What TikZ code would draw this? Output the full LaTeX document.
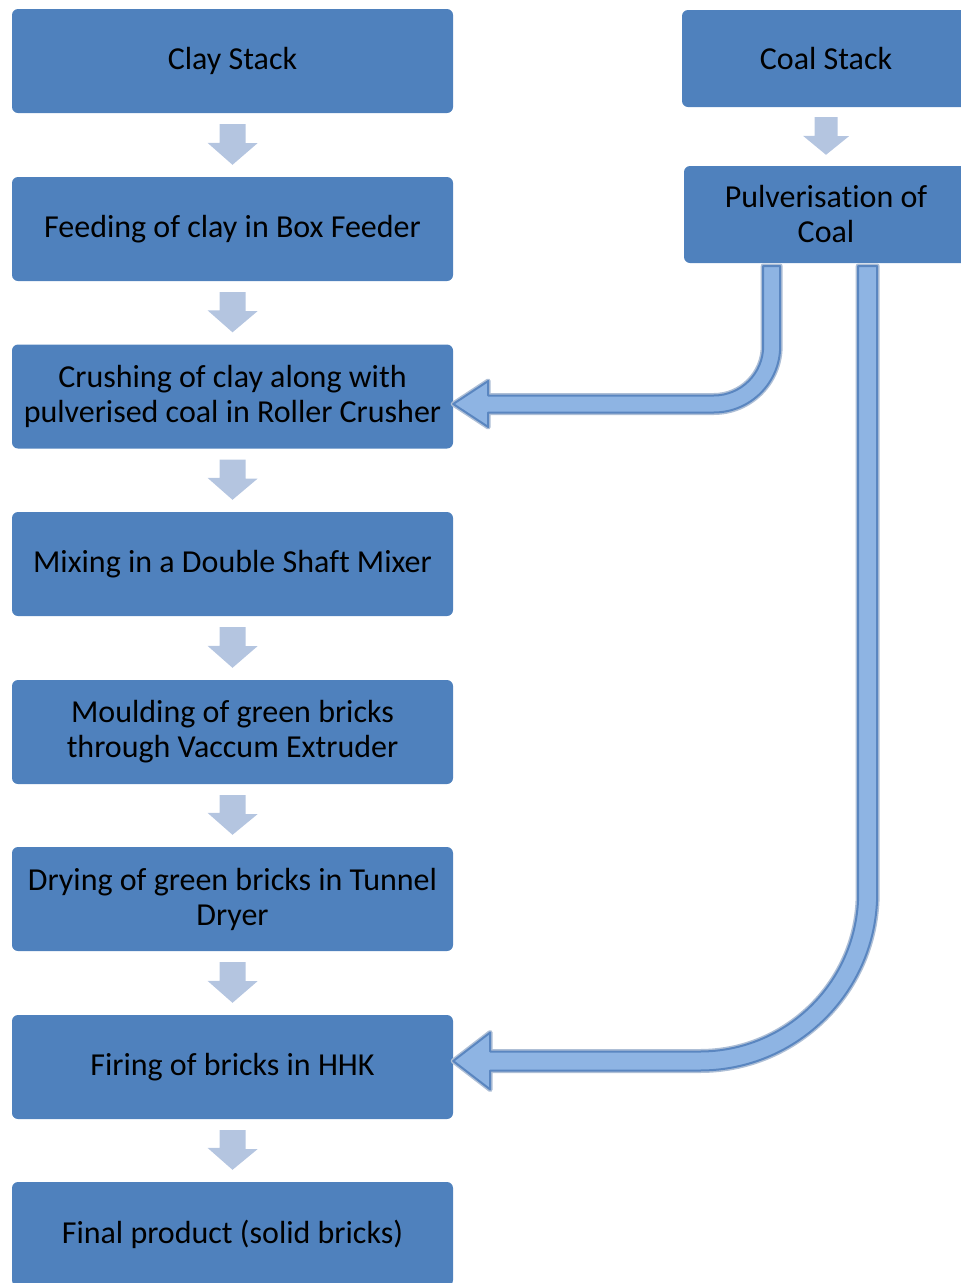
\documentclass[tikz,border=0pt]{standalone}
\usepackage{fontspec}
\setmainfont{Carlito}[Ligatures=NoCommon]
\usetikzlibrary{calc}
\definecolor{boxfill}{HTML}{4F81BD}
\definecolor{arrfill}{HTML}{B4C5E0}
\definecolor{confill}{HTML}{8EB4E3}
\definecolor{conborder}{HTML}{5A86C0}
\definecolor{conhalo}{HTML}{AEBFD6}
\tikzset{
  box/.style={fill=boxfill, rounded corners=6pt, minimum height=104pt, minimum width=441pt,
    inner sep=0pt, align=center, font=\fontsize{32pt}{35pt}\selectfont, text=black},
  dnarr/.style={fill=arrfill, draw=none},
  connector/.style={preaction={draw=conhalo, line width=5pt, line join=round},
    draw=conborder, line width=2pt, fill=confill, line join=round}
}
\newcommand\dnarrow[2]{%
  \fill[dnarr] ($(#1.south)+(-13,11)$) -- ++(26,0) -- ++(0,19) -- ++(12,0)
    -- ($(#2.north)+(0,-12)$) -- ++(-25,-22) -- ++(12,0) -- cycle;}
\begin{document}
\begin{tikzpicture}[x=1pt,y=-1pt]
\useasboundingbox (0,0) rectangle (961,1283);
\node[box] (clay) at (232.5,61) {Clay Stack};
\node[box] (feed) at (232.5,229) {Feeding of clay in Box Feeder};
\node[box] (crush) at (232.5,396.5) {Crushing of clay along with\\pulverised coal in Roller Crusher};
\node[box] (mix) at (232.5,564) {Mixing in a Double Shaft Mixer};
\node[box] (mould) at (232.5,732) {Moulding of green bricks\\through Vaccum Extruder};
\node[box] (dry) at (232.5,899) {Drying of green bricks in Tunnel\\Dryer};
\node[box] (fire) at (232.5,1067) {Firing of bricks in HHK};
\node[box] (final) at (232.5,1234) {Final product (solid bricks)};
\node[box, minimum width=288pt, minimum height=97pt] (coal) at (826,58.5) {Coal Stack};
\node[box, minimum width=284pt, minimum height=97pt] (pulv) at (826,214.5) {Pulverisation of\\Coal};
\dnarrow{clay}{feed}
\dnarrow{feed}{crush}
\dnarrow{crush}{mix}
\dnarrow{mix}{mould}
\dnarrow{mould}{dry}
\dnarrow{dry}{fire}
\dnarrow{fire}{final}
\fill[dnarr] ($(coal.south)+(-11.5,10)$) -- ++(23,0) -- ++(0,19) -- ++(11.5,0)
  -- ($(pulv.north)+(0,-11)$) -- ++(-23,-19) -- ++(11.5,0) -- cycle;
% connector 1: pulverised coal to roller crusher
\coordinate (t1) at ($(crush.east)+(0,7.5)$);
\draw[connector] (t1) -- ++(35,-23) -- ++(0,14.5) -- ++(225.5,0)
  arc[start angle=90, end angle=0, radius=49.5] -- ++(0,-80) -- ++(17,0) -- ++(0,80)
  arc[start angle=0, end angle=90, radius=66.5] -- ++(-225.5,0) -- ++(0,14.5) -- cycle;
% connector 2: coal to HHK firing
\coordinate (t2) at ($(fire.east)+(0,-6)$);
\draw[connector] (t2) -- ++(37,-28.5) -- ++(0,19) -- ++(209.5,0)
  arc[start angle=90, end angle=0, radius=158.5] -- ++(0,-627) -- ++(19,0) -- ++(0,627)
  arc[start angle=0, end angle=90, radius=177.5] -- ++(-209.5,0) -- ++(0,19) -- cycle;
\end{tikzpicture}
\end{document}
